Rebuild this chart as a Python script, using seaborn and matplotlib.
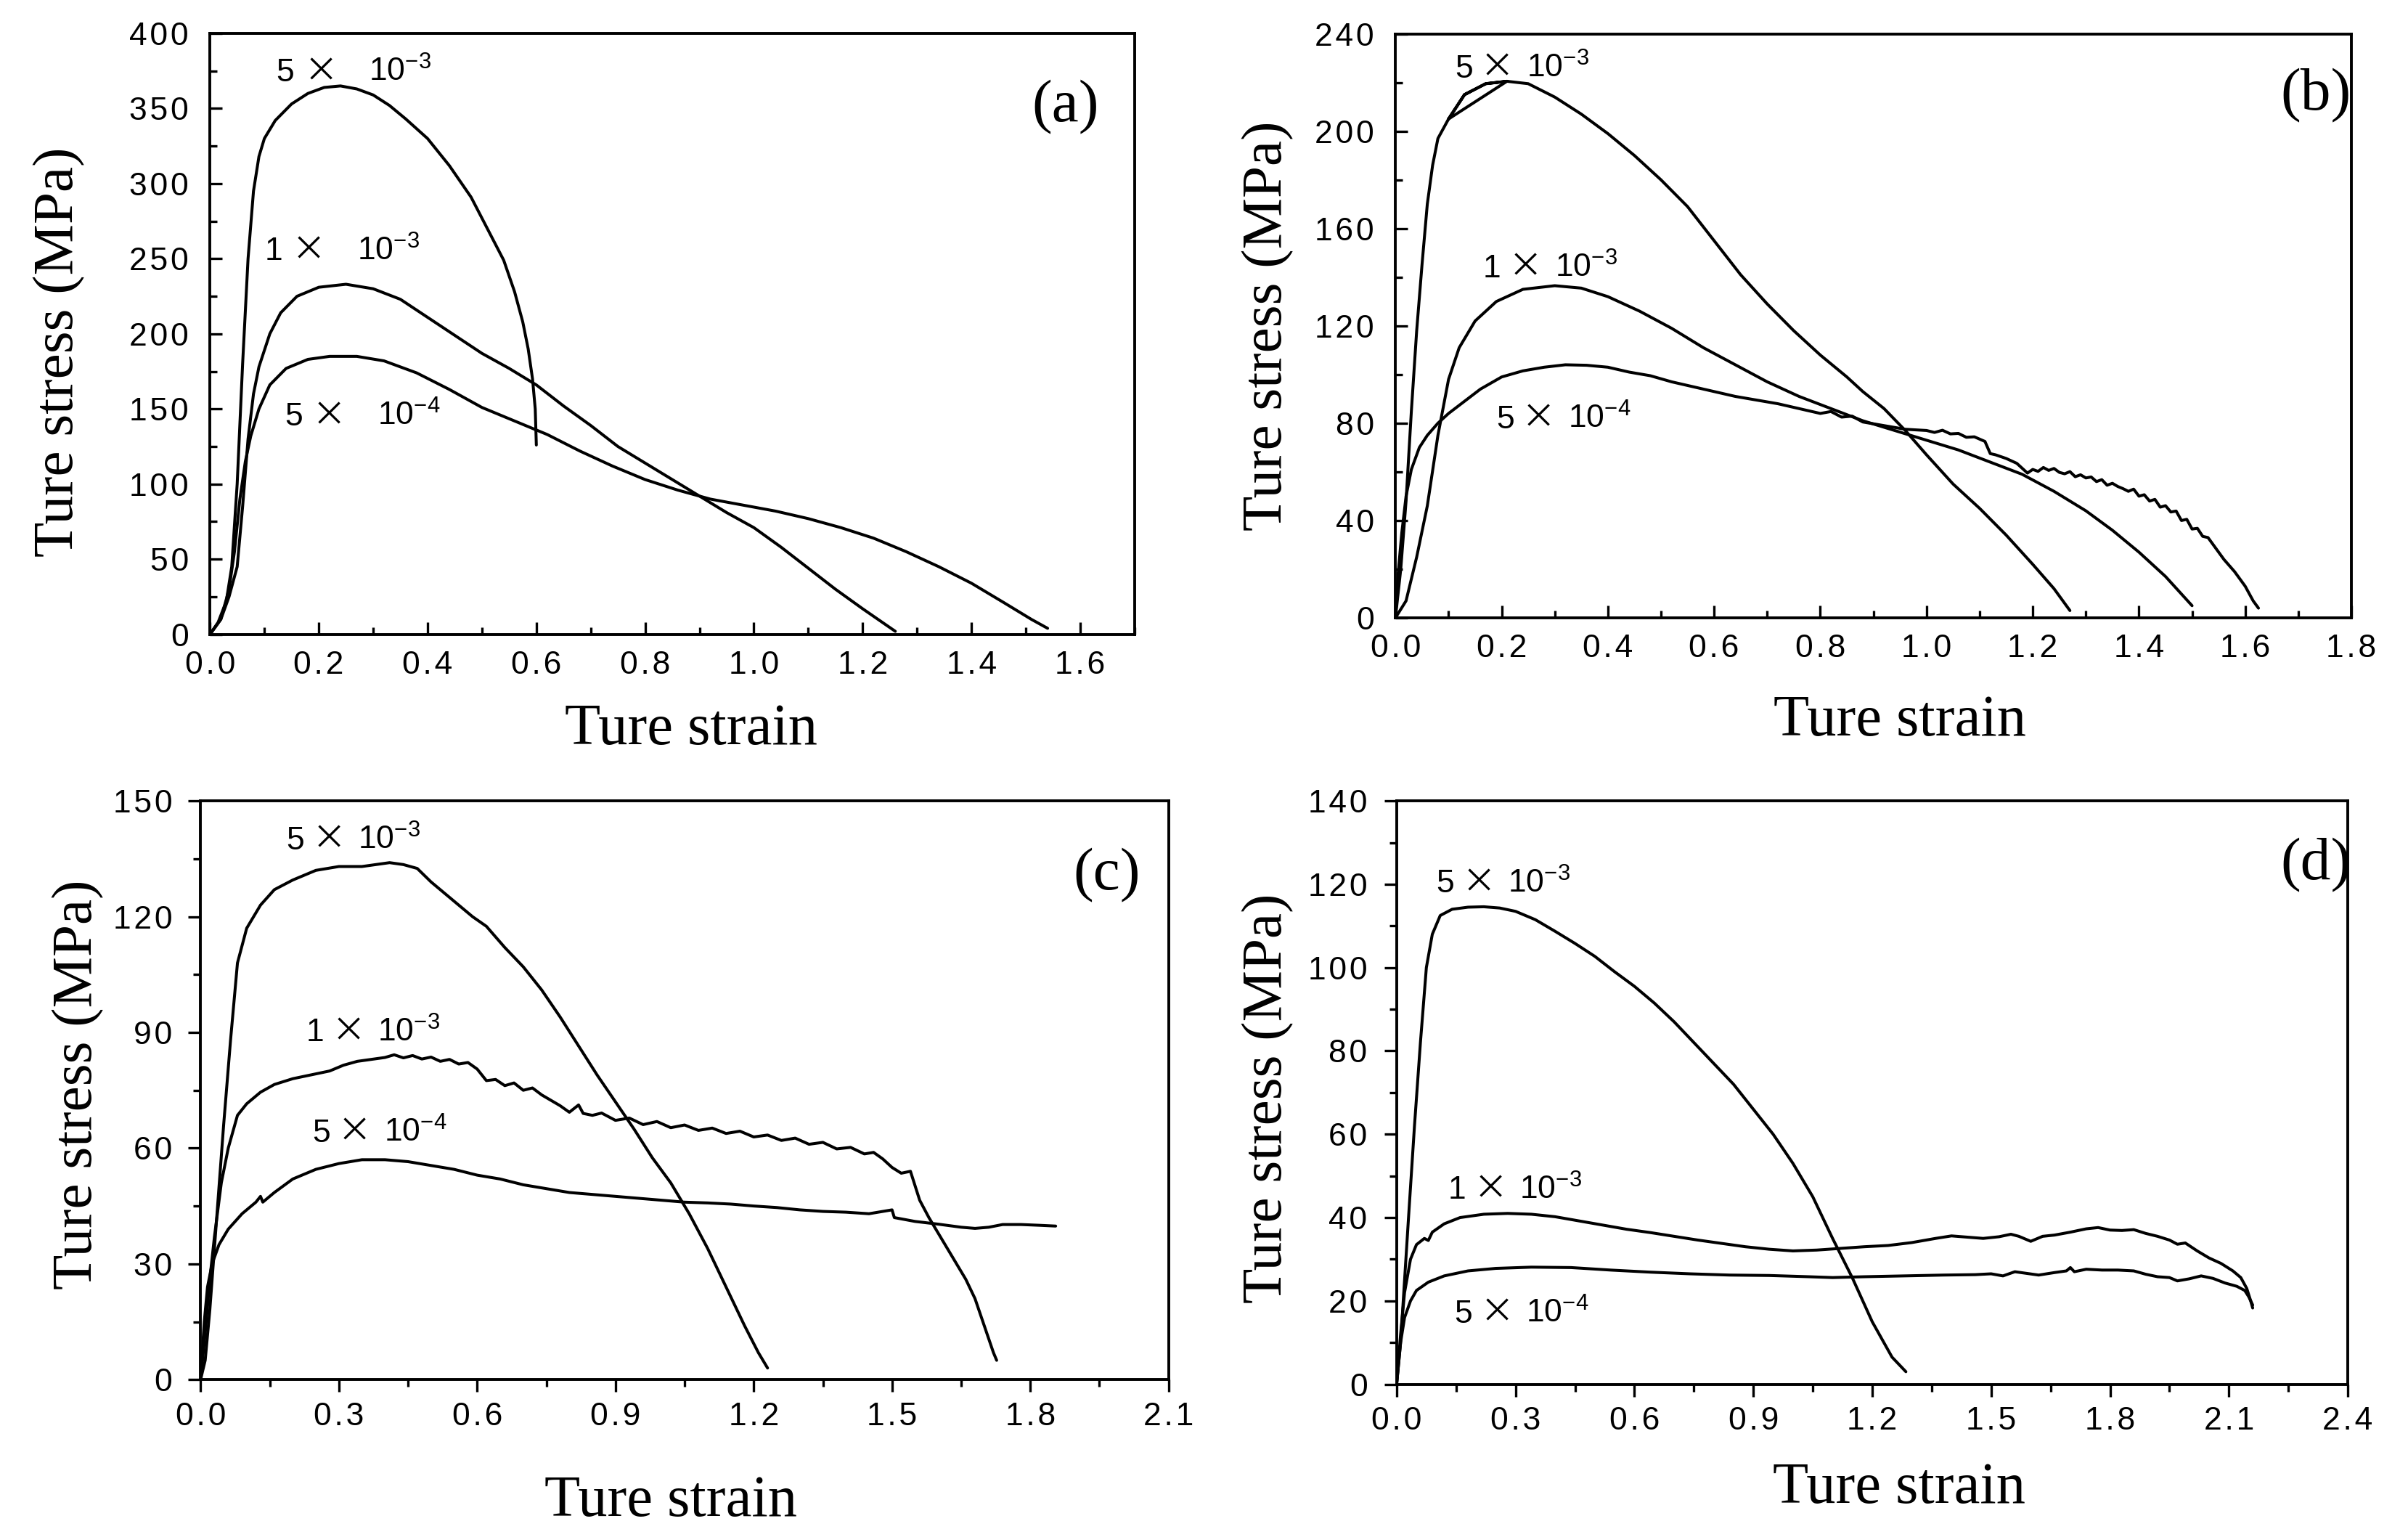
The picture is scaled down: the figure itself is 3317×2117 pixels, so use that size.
import numpy as np
import pandas as pd
import seaborn as sns
import matplotlib
matplotlib.use('Agg')
import matplotlib.pyplot as plt
from matplotlib.ticker import MultipleLocator, FuncFormatter

# ---- panel (a) ----
a5e3_x = [0, 0.015, 0.03, 0.04, 0.05, 0.06, 0.07, 0.08, 0.09, 0.10, 0.12, 0.15, 0.18, 0.21, 0.24, 0.27,
          0.30, 0.33, 0.36, 0.40, 0.44, 0.48, 0.51, 0.54, 0.56, 0.575, 0.585, 0.593, 0.598, 0.60]
a5e3_y = [0, 8, 22, 45, 100, 180, 250, 295, 318, 330, 342, 353, 360, 364, 365, 363,
          359, 352, 343, 330, 312, 291, 270, 249, 228, 208, 190, 170, 150, 126]
a1e3_x = [0, 0.02, 0.035, 0.05, 0.06, 0.07, 0.08, 0.09, 0.11, 0.13, 0.16, 0.20, 0.25, 0.30, 0.35, 0.40,
          0.45, 0.50, 0.55, 0.60, 0.65, 0.70, 0.75, 0.80, 0.85, 0.90, 0.95, 1.00, 1.05, 1.10, 1.15,
          1.20, 1.24, 1.26]
a1e3_y = [0, 10, 25, 45, 85, 130, 160, 178, 200, 214, 225, 231, 233, 230, 223, 211,
          199, 187, 177, 166, 152, 139, 125, 114, 103, 92, 81, 71, 58, 44, 30,
          17, 7, 2]
a5e4_x = [0, 0.02, 0.035, 0.045, 0.055, 0.065, 0.075, 0.09, 0.11, 0.14, 0.18, 0.22, 0.27, 0.32, 0.38,
          0.44, 0.50, 0.56, 0.62, 0.68, 0.74, 0.80, 0.86, 0.92, 0.98, 1.04, 1.10, 1.16, 1.22,
          1.28, 1.34, 1.40, 1.46, 1.51, 1.54]
a5e4_y = [0, 10, 30, 55, 90, 115, 132, 150, 166, 177, 183, 185, 185, 182, 174,
          163, 151, 142, 133, 122, 112, 103, 96, 90, 86, 82, 77, 71, 64,
          55, 45, 34, 21, 10, 4]

# ---- panel (b) ----
b5e3_x = [0, 0.01, 0.02, 0.03, 0.04, 0.05, 0.06, 0.07, 0.08, 0.10, 0.21, 0.17, 0.13, 0.10, 0.13, 0.17,
          0.21, 0.25, 0.30, 0.35, 0.40, 0.45, 0.50, 0.55, 0.60, 0.65, 0.70, 0.75, 0.80, 0.85, 0.88,
          0.92, 0.96, 1.00, 1.05, 1.10, 1.15, 1.20, 1.24, 1.27]
b5e3_y = [0, 20, 48, 85, 118, 145, 170, 186, 197, 205, 220.5, 219.5, 215, 205, 215, 219.5,
          220.5, 219.5, 214, 207, 199, 190, 180, 169, 155, 141, 129, 118, 108, 99, 93,
          86, 77, 67, 55, 45, 34, 22, 12, 3]
b1e3_x = [0, 0.02, 0.04, 0.06, 0.08, 0.10, 0.12, 0.15, 0.19, 0.24, 0.30, 0.35, 0.40, 0.46, 0.52, 0.58,
          0.64, 0.70, 0.76, 0.82, 0.88, 0.94, 1.00, 1.06, 1.12, 1.18, 1.24, 1.30, 1.35, 1.40, 1.45, 1.50]
b1e3_y = [0, 7, 25, 46, 75, 98, 111, 122, 130, 135, 136.5, 135.5, 132, 126, 119, 111,
          104, 97, 91, 86, 81, 77, 73, 69, 64, 59, 52, 44, 36, 27, 17, 5]
b5e4_x = [0, 0.005, 0.012, 0.02, 0.03, 0.045, 0.06, 0.08, 0.10, 0.13, 0.16, 0.20, 0.24, 0.28, 0.32,
          0.36, 0.40, 0.44, 0.48, 0.52, 0.56, 0.60, 0.64, 0.68, 0.72, 0.76, 0.80, 0.82, 0.84, 0.86,
          0.88, 0.92, 0.96, 1.00, 1.015, 1.03, 1.045, 1.06, 1.075, 1.09, 1.11, 1.12, 1.13, 1.15,
          1.17, 1.19, 1.20, 1.21, 1.22, 1.23, 1.24, 1.25, 1.26, 1.27, 1.28, 1.29, 1.30, 1.31,
          1.32, 1.33, 1.34, 1.35, 1.36, 1.37, 1.38, 1.39, 1.40, 1.41, 1.42, 1.43, 1.44, 1.45,
          1.46, 1.47, 1.48, 1.49, 1.50, 1.51, 1.52, 1.53, 1.54, 1.56, 1.58, 1.60, 1.615, 1.625]
b5e4_y = [0, 18, 35, 50, 61, 70, 75, 80, 84, 89, 94, 99, 101.5, 103, 104,
          103.8, 103, 101, 99.5, 97, 95, 93, 91, 89.5, 88, 86, 84, 84.8, 82.5, 82.9,
          80.5, 79, 77.5, 77, 76.2, 77.1, 75.6, 75.8, 74.2, 74.4, 72.5, 67.5, 67, 65.5,
          63.5, 59.5, 61, 60.2, 61.8, 60.6, 61.4, 59.8, 59.2, 60.1, 58.0, 58.8, 57.5, 57.9,
          56.0, 56.8, 54.5, 55.3, 54.0, 53.1, 52.0, 52.9, 50.0, 50.6, 48.0, 48.7, 45.5, 46.1,
          43.5, 43.9, 40.0, 40.5, 36.5, 36.8, 33.5, 33.0, 30.0, 24, 19, 13, 7, 4]

# ---- panel (c) ----
c5e3_x = [0, 0.01, 0.02, 0.035, 0.05, 0.065, 0.08, 0.10, 0.13, 0.16, 0.20, 0.25, 0.30, 0.35, 0.38, 0.41,
          0.44, 0.47, 0.50, 0.53, 0.56, 0.59, 0.62, 0.66, 0.70, 0.74, 0.78, 0.82, 0.86, 0.90, 0.94,
          0.98, 1.02, 1.06, 1.10, 1.14, 1.18, 1.21, 1.23]
c5e3_y = [0, 5, 18, 42, 66, 88, 108, 117, 123, 127, 129.5, 132, 133, 133, 133.5, 134,
          133.5, 132.5, 129, 126, 123, 120, 117.5, 112, 107, 101, 94, 86.5, 79, 72, 65,
          57.5, 51, 43, 34, 24, 14, 7, 3]
c1e3_x = [0, 0.01, 0.02, 0.03, 0.045, 0.06, 0.08, 0.10, 0.13, 0.16, 0.20, 0.24, 0.28, 0.31, 0.34, 0.37,
          0.40, 0.42, 0.44, 0.46, 0.48, 0.50, 0.52, 0.54, 0.56, 0.58, 0.60, 0.62, 0.64, 0.66, 0.68,
          0.70, 0.72, 0.74, 0.76, 0.78, 0.80, 0.82, 0.83, 0.85, 0.87, 0.90, 0.93, 0.96, 0.99, 1.02,
          1.05, 1.08, 1.11, 1.14, 1.17, 1.20, 1.23, 1.26, 1.29, 1.32, 1.35, 1.38, 1.41, 1.44, 1.46,
          1.48, 1.50, 1.52, 1.54, 1.56, 1.58, 1.60, 1.62, 1.64, 1.66, 1.68, 1.70, 1.72, 1.727]
c1e3_y = [0, 12, 26, 37, 51, 60, 68.5, 71.5, 74.5, 76.5, 78, 79, 80, 81.5, 82.5, 83,
          83.5, 84.2, 83.4, 84.0, 83.1, 83.6, 82.5, 83.0, 81.8, 82.2, 80.5, 77.5, 77.8, 76.2, 76.9,
          75.0, 75.6, 73.8, 72.4, 71.0, 69.3, 71.2, 69.0, 68.5, 69.1, 67.2, 67.8, 66.1, 66.9, 65.3,
          66.0, 64.6, 65.2, 63.8, 64.4, 62.9, 63.4, 62.0, 62.6, 61.0, 61.5, 59.8, 60.2, 58.5, 58.9,
          57.2, 55.0, 53.5, 54.0, 46.5, 42.0, 38.0, 34.0, 30.0, 26.0, 21.0, 14.0, 7.0, 5.0]
c5e4_x = [0, 0.008, 0.015, 0.025, 0.04, 0.06, 0.09, 0.12, 0.13, 0.135, 0.16, 0.20, 0.25, 0.30, 0.35,
          0.40, 0.45, 0.50, 0.55, 0.60, 0.65, 0.70, 0.75, 0.80, 0.85, 0.90, 0.95, 1.00, 1.05, 1.10,
          1.15, 1.20, 1.25, 1.30, 1.35, 1.40, 1.45, 1.50, 1.505, 1.55, 1.60, 1.65, 1.68, 1.71, 1.74,
          1.78, 1.82, 1.855]
c5e4_y = [0, 15, 24, 30, 35, 39, 43, 46, 47.5, 46, 48.5, 52, 54.5, 56, 57,
          57, 56.5, 55.5, 54.5, 53, 52, 50.5, 49.5, 48.5, 48, 47.5, 47, 46.5, 46, 45.8,
          45.5, 45, 44.6, 44, 43.6, 43.4, 43, 44, 42, 41, 40.3, 39.5, 39.2, 39.5, 40.2,
          40.2, 40, 39.8]

# ---- panel (d) ----
d5e3_x = [0, 0.01, 0.02, 0.03, 0.045, 0.06, 0.075, 0.09, 0.11, 0.14, 0.18, 0.22, 0.26, 0.30, 0.35, 0.40,
          0.45, 0.50, 0.55, 0.60, 0.65, 0.70, 0.75, 0.80, 0.85, 0.90, 0.95, 1.00, 1.05, 1.10, 1.15,
          1.20, 1.25, 1.285]
d5e3_y = [0, 10, 25, 40, 62, 82, 100, 108, 112.5, 114, 114.5, 114.6, 114.3, 113.5, 111.5, 108.7,
          105.8, 102.7, 99, 95.5, 91.5, 87, 82, 77, 72, 66, 60, 53, 45, 35, 25.5,
          15, 6.5, 3]
d1e3_x = [0, 0.01, 0.02, 0.035, 0.05, 0.07, 0.08, 0.09, 0.12, 0.16, 0.22, 0.28, 0.34, 0.40, 0.46, 0.52,
          0.58, 0.64, 0.70, 0.76, 0.82, 0.88, 0.94, 1.00, 1.06, 1.12, 1.18, 1.24, 1.30, 1.36, 1.40,
          1.44, 1.48, 1.52, 1.55, 1.57, 1.60, 1.63, 1.66, 1.70, 1.74, 1.77, 1.80, 1.83, 1.86, 1.89,
          1.92, 1.95, 1.97, 1.99, 2.02, 2.05, 2.08, 2.11, 2.13, 2.145, 2.155, 2.16]
d1e3_y = [0, 12, 22, 30, 33.5, 35, 34.5, 36.5, 38.5, 40, 40.8, 41, 40.8, 40.2, 39.2, 38.2,
          37.2, 36.4, 35.5, 34.6, 33.8, 33, 32.4, 32, 32.2, 32.6, 33, 33.3, 34, 35, 35.6,
          35.3, 35, 35.4, 36, 35.5, 34.3, 35.5, 35.8, 36.5, 37.3, 37.6, 37.0, 36.9, 37.1, 36.2,
          35.5, 34.6, 33.6, 33.9, 32.0, 30.3, 29.0, 27.2, 25.6, 23.0, 20, 18.3]
d5e4_x = [0, 0.01, 0.02, 0.035, 0.05, 0.08, 0.12, 0.18, 0.25, 0.34, 0.44, 0.54, 0.64, 0.74, 0.84, 0.94,
          1.04, 1.10, 1.18, 1.28, 1.38, 1.46, 1.50, 1.53, 1.56, 1.59, 1.62, 1.66, 1.69, 1.70, 1.71,
          1.74, 1.78, 1.82, 1.86, 1.89, 1.92, 1.95, 1.97, 2.00, 2.03, 2.06, 2.09, 2.12, 2.14, 2.15,
          2.16]
d5e4_y = [0, 10, 16, 20, 22.5, 24.5, 26, 27.2, 27.8, 28.1, 28, 27.4, 26.9, 26.5, 26.2, 26.1,
          25.8, 25.6, 25.8, 26.0, 26.2, 26.3, 26.5, 26.0, 27.0, 26.6, 26.2, 26.8, 27.2, 28.0, 27.0,
          27.6, 27.4, 27.4, 27.2, 26.4, 25.8, 25.6, 24.8, 25.3, 26.0, 25.4, 24.3, 23.5, 22.5, 21,
          19]

rate_labels = ['5e-3', '1e-3', '5e-4']
rate_mantissa = ['5', '1', '5']
rate_power = ['10$^{-3}$', '10$^{-3}$', '10$^{-4}$']

sns.set_theme(style='ticks')
sans = ['Liberation Sans', 'DejaVu Sans']
serif = ['Liberation Serif', 'DejaVu Serif']
cross_font = ['Noto Sans CJK JP', 'DejaVu Sans']
plt.rcParams['font.family'] = sans
plt.rcParams['mathtext.fontset'] = 'custom'
plt.rcParams['mathtext.rm'] = 'Liberation Sans'
plt.rcParams['mathtext.default'] = 'rm'
for key in ['text.color', 'axes.labelcolor', 'xtick.color', 'ytick.color', 'axes.edgecolor']:
    plt.rcParams[key] = 'black'

fig = plt.figure(figsize=(33.17, 21.17), dpi=100)


def make_df(xs, ys):
    parts = []
    for lab, x, y in zip(rate_labels, xs, ys):
        parts.append(pd.DataFrame({'strain': x, 'stress': y, 'rate': lab}))
    return pd.concat(parts, ignore_index=True)


def spaced(fmt):
    # the original tick labels are drawn with loose letter spacing
    return FuncFormatter(lambda v, pos: '\u200a'.join(fmt % v))


panels = [
    dict(rect=[0.0872, 0.5873, 0.384, 0.391], xs=[a5e3_x, a1e3_x, a5e4_x], ys=[a5e3_y, a1e3_y, a5e4_y],
         xlim=1.7, xmax_tick=1.6, xstep=0.2, ylim=400, ystep=50, tag='(a)', tagpos=(0.925, 0.877),
         ylab=(-0.135, 0.47), xlab=(0.52, -0.115), gap=(27, 92), tdir='in', pads=(16, 21),
         notes=[(0.122, 368), (0.10, 249), (0.137, 139)]),
    dict(rect=[0.5795, 0.598, 0.397, 0.380], xs=[b5e3_x, b1e3_x, b5e4_x], ys=[b5e3_y, b1e3_y, b5e4_y],
         xlim=1.8, xmax_tick=1.8, xstep=0.2, ylim=240, ystep=40, tag='(b)', tagpos=(0.963, 0.894),
         ylab=(-0.106, 0.5), xlab=(0.528, -0.132), gap=(25, 71), tdir='in', pads=(16, 21),
         notes=[(0.112, 222), (0.165, 140), (0.19, 78)]),
    dict(rect=[0.0833, 0.1024, 0.402, 0.3765], xs=[c5e3_x, c1e3_x, c5e4_x], ys=[c5e3_y, c1e3_y, c5e4_y],
         xlim=2.1, xmax_tick=2.1, xstep=0.3, ylim=150, ystep=30, tag='(c)', tagpos=(0.936, 0.872),
         ylab=(-0.10, 0.51), xlab=(0.486, -0.165), gap=(25, 71), tdir='out', pads=(10, 16),
         notes=[(0.186, 137.5), (0.229, 87.7), (0.242, 61.6)]),
    dict(rect=[0.580, 0.0994, 0.395, 0.3795], xs=[d5e3_x, d1e3_x, d5e4_x], ys=[d5e3_y, d1e3_y, d5e4_y],
         xlim=2.4, xmax_tick=2.4, xstep=0.3, ylim=140, ystep=20, tag='(d)', tagpos=(0.966, 0.89),
         ylab=(-0.108, 0.49), xlab=(0.528, -0.134), gap=(25, 71), tdir='out', pads=(10, 17),
         notes=[(0.10, 118), (0.13, 44.5), (0.146, 14.8)]),
]

for p in panels:
    ax = fig.add_axes(p['rect'])
    df = make_df(p['xs'], p['ys'])
    sns.lineplot(data=df, x='strain', y='stress', units='rate', estimator=None, sort=False,
                 color='black', linewidth=2.9, legend=False, ax=ax)
    ax.set_xlim(0, p['xlim'])
    ax.set_ylim(0, p['ylim'])
    ax.set_xticks(np.arange(0, p['xmax_tick'] + 1e-6, p['xstep']))
    ax.set_yticks(np.arange(0, p['ylim'] + 1e-6, p['ystep']))
    ax.xaxis.set_minor_locator(MultipleLocator(p['xstep'] / 2))
    ax.yaxis.set_minor_locator(MultipleLocator(p['ystep'] / 2))
    ax.xaxis.set_major_formatter(spaced('%.1f'))
    ax.yaxis.set_major_formatter(spaced('%d'))
    ax.tick_params(which='major', direction=p['tdir'], length=12, width=2.4, labelsize=32,
                   top=False, right=False, color='black', labelcolor='black')
    ax.tick_params(axis='x', which='major', pad=p['pads'][0])
    ax.tick_params(axis='y', which='major', pad=p['pads'][1])
    ax.tick_params(which='minor', direction=p['tdir'], length=7, width=2.4, top=False, right=False,
                   color='black')
    for s in ax.spines.values():
        s.set_visible(True)
        s.set_linewidth(2.8)
        s.set_color('black')
    ax.set_xlabel('Ture strain', fontsize=58, family=serif)
    ax.set_ylabel('Ture stress (MPa)', fontsize=57, family=serif)
    ax.yaxis.set_label_coords(*p['ylab'])
    ax.xaxis.set_label_coords(*p['xlab'])
    ax.text(p['tagpos'][0], p['tagpos'][1], p['tag'], transform=ax.transAxes, fontsize=60,
            family=serif, ha='center', va='center')
    for (tx, ty), m, pw in zip(p['notes'], rate_mantissa, rate_power):
        ax.annotate(m, (tx, ty), fontsize=32, ha='left', va='baseline')
        ax.annotate('×', (tx, ty), xytext=(p['gap'][0], 0), textcoords='offset points',
                    fontsize=34, family=cross_font, ha='left', va='baseline')
        ax.annotate(pw, (tx, ty), xytext=(p['gap'][1], 0), textcoords='offset points',
                    fontsize=32, ha='left', va='baseline')
    ax.grid(False)

fig.savefig('out.png', dpi=100, facecolor='white')
